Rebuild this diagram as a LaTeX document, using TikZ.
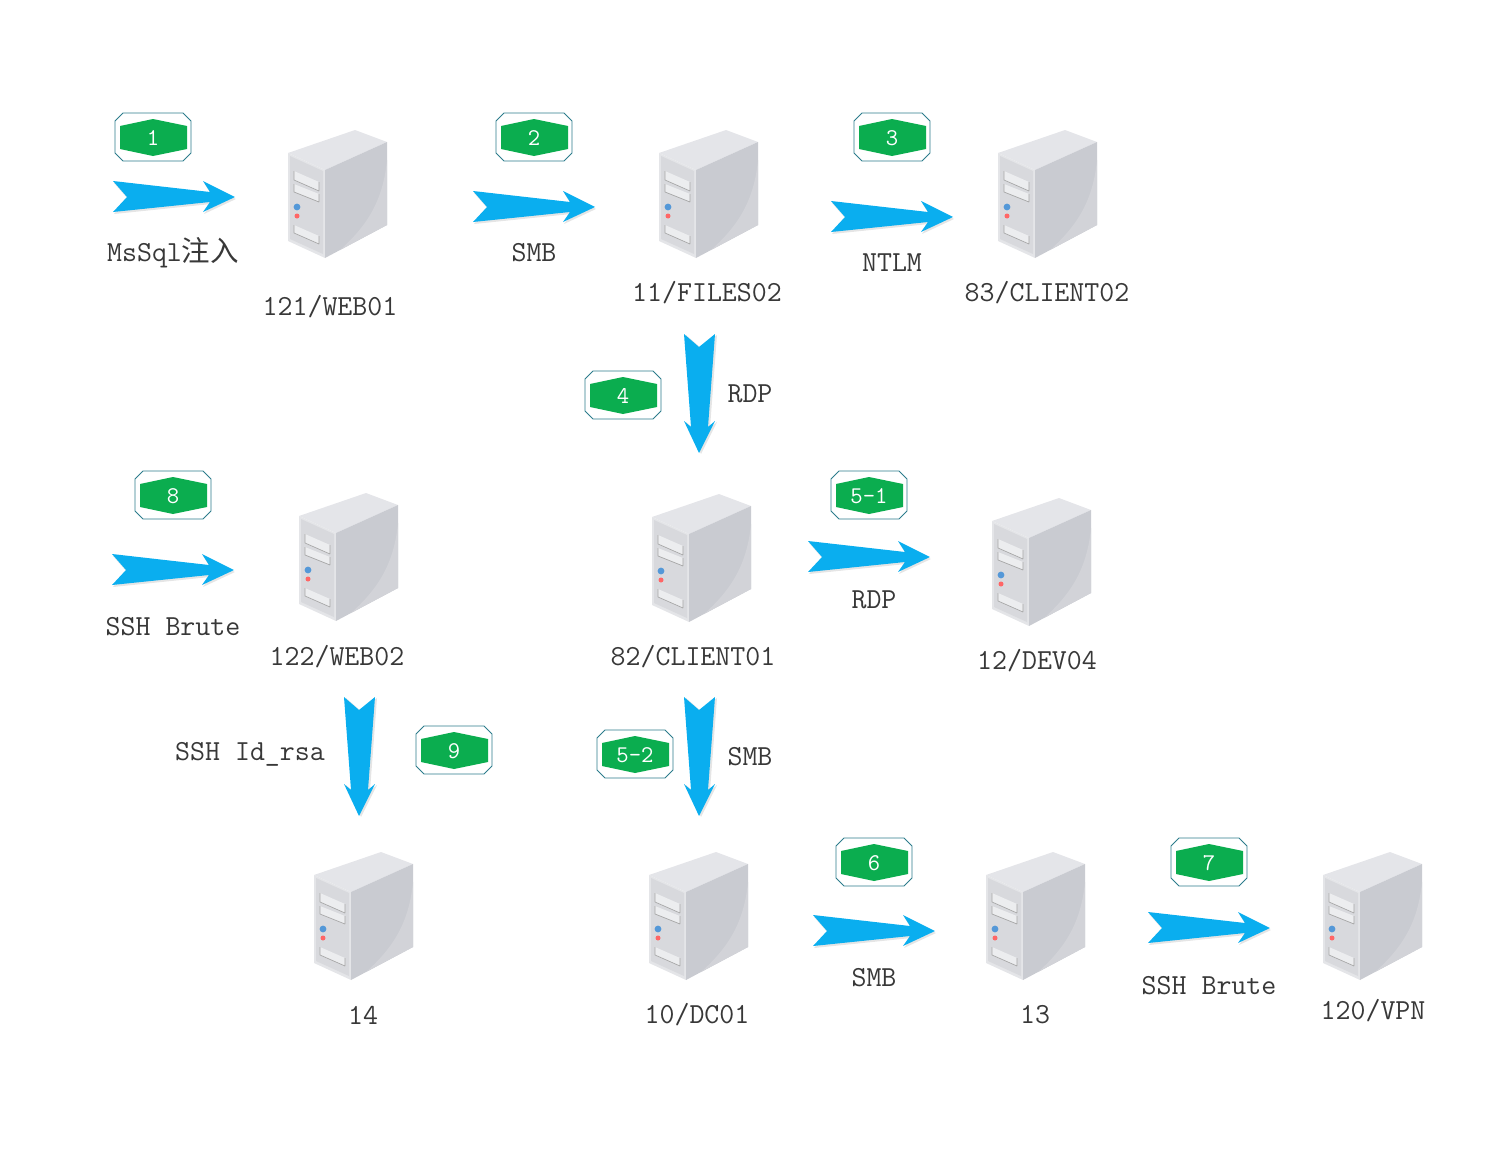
\documentclass[tikz,border=0pt]{standalone}
\usepackage{fontspec}
\newfontfamily\cjk[Scale=0.98]{Noto Sans CJK SC}
\definecolor{arrowblue}{HTML}{0AAEEF}
\definecolor{badgegreen}{HTML}{0BAD4F}
\definecolor{badgeline}{HTML}{2C7C8C}
\definecolor{srvtop}{HTML}{E4E5E9}
\definecolor{srvrim}{HTML}{E4E5E8}
\definecolor{srvfront}{HTML}{D8D9DD}
\definecolor{srvside}{HTML}{C9CBD1}
\definecolor{srvsweep}{HTML}{D2D3D8}
\definecolor{srvbay}{HTML}{ECEDEF}
\tikzset{
  lbl/.style={font=\fontsize{21.8}{22}\selectfont\ttfamily, text=black!78, inner sep=0pt},
  % server, origin is the top left corner of its box
  server/.pic={
    \fill[srvtop] (0,23) -- (67,0) -- (99,12) -- (37,40) -- cycle;
    \fill[srvrim] (0,23) -- (37,40) -- (37,128) -- (0,111) -- cycle;
    \fill[srvfront] (2,26) -- (35,41) -- (35,124) -- (2,109) -- cycle;
    \fill[srvside] (37,40) -- (99,12) -- (99,95) -- (37,128) -- cycle;
    \fill[srvsweep] (99,30) .. controls (95,70) and (80,95) .. (52,120) -- (99,95) -- cycle;
    \fill[srvbay] (6,41) -- (31,52) -- (31,61) -- (6,50) -- cycle;
    \fill[srvbay] (6,54) -- (31,64) -- (31,72) -- (6,62) -- cycle;
    \fill[srvbay] (6,95) -- (31,106) -- (31,114) -- (6,103) -- cycle;
    \draw[black!35, line width=0.5pt] (6,50) -- (31,61) (6,41) -- (6,50) (31,52) -- (31,61);
    \draw[black!35, line width=0.5pt] (6,62) -- (31,72) (6,54) -- (6,62) (31,64) -- (31,72);
    \draw[black!35, line width=0.5pt] (6,103) -- (31,114) (6,95) -- (6,103) (31,106) -- (31,114);
    \fill[cyan!60!blue!70] (9,77) circle (3.4);
    \fill[red!60] (9,86) circle (2.5);
  },
  % number badge, origin is its centre
  badge/.pic={
    \draw[badgeline, fill=white, line width=0.6pt] (-30,-24) -- (30,-24) -- (38,-16) -- (38,16)
      -- (30,24) -- (-30,24) -- (-38,16) -- (-38,-16) -- cycle;
    \fill[badgegreen] (-33,-11) -- (0,-18) -- (34,-11) -- (34,12) -- (0,19) -- (-33,12) -- cycle;
    \node[font=\fontsize{18}{18}\selectfont\ttfamily, text=white, inner sep=0pt] (-num) at (0,1) {#1};
  },
  % arrow pointing right, origin is the upper tail corner
  harrow/.pic={
    \fill[black!10] (1,2) -- (15,18) -- (1,33) -- (98,23) -- (91,33) -- (123,18) -- (91,2) -- (98,13) -- cycle;
    \fill[arrowblue] (0,0) -- (14,16) -- (0,31) -- (97,21) -- (90,31) -- (122,16) -- (90,0) -- (97,11) -- cycle;
  },
  % arrow pointing down, origin is the left tail corner
  varrow/.pic={
    \fill[black!10] (2,1) -- (17,14) -- (33,1) -- (26,94) -- (33,88) -- (17,120) -- (2,88) -- (9,94) -- cycle;
    \fill[arrowblue] (0,0) -- (15,13) -- (31,0) -- (24,93) -- (31,87) -- (15,119) -- (0,87) -- (7,93) -- cycle;
  },
}
\begin{document}
\begin{tikzpicture}[x=0.75pt, y=-0.75pt]
    % reference pixels are the coordinates
    \useasboundingbox (0,0) rectangle (1506,1160);

    % --- Servers ---
    \pic at (288,130) {server};
    \pic at (659,130) {server};
    \pic at (998,130) {server};
    \pic at (299,493) {server};
    \pic at (652,494) {server};
    \pic at (992,498) {server};
    \pic at (314,852) {server};
    \pic at (649,852) {server};
    \pic at (986,852) {server};
    \pic at (1323,852) {server};

    % --- Arrows ---
    \pic at (113,181) {harrow};
    \pic at (473,191) {harrow};
    \pic at (831,201) {harrow};
    \pic at (112,554) {harrow};
    \pic at (808,541) {harrow};
    \pic at (813,915) {harrow};
    \pic at (1148,912) {harrow};
    \pic at (684,334) {varrow};
    \pic at (344,697) {varrow};
    \pic at (684,697) {varrow};

    % --- Badges ---
    \pic (stepA) at (153,137) {badge=1};
    \pic (stepB) at (534,137) {badge=2};
    \pic (stepC) at (892,137) {badge=3};
    \pic (stepD) at (623,395) {badge=4};
    \pic (stepH) at (173,495) {badge=8};
    \pic (stepEa) at (869,495) {badge=5-1};
    \pic (stepI) at (454,750) {badge=9};
    \pic (stepEb) at (635,754) {badge=5-2};
    \pic (stepF) at (874,862) {badge=6};
    \pic (stepG) at (1209,862) {badge=7};

    % --- Server names ---
    \node[lbl] (web01) at (330,307) {121/WEB01};
    \node[lbl] (files02) at (707,293) {11/FILES02};
    \node[lbl] (client02) at (1047,293) {83/CLIENT02};
    \node[lbl] (web02) at (337,657) {122/WEB02};
    \node[lbl] (client01) at (693,657) {82/CLIENT01};
    \node[lbl] (dev04) at (1037,661) {12/DEV04};
    \node[lbl] (h14) at (363,1015) {14};
    \node[lbl] (dc01) at (697,1015) {10/DC01};
    \node[lbl] (h13) at (1035,1015) {13};
    \node[lbl] (vpn) at (1373,1011) {120/VPN};

    % --- Protocol labels ---
    \node[lbl] (mssql) at (173,253) {MsSql{\cjk 注入}};
    \node[lbl] (smbA) at (534,253) {SMB};
    \node[lbl] (ntlm) at (892,263) {NTLM};
    \node[lbl] (rdpA) at (750,394) {RDP};
    \node[lbl] (brA) at (173,627) {SSH Brute};
    \node[lbl] (rdpB) at (874,600) {RDP};
    \node[lbl] (idrsa) at (250,754) {SSH Id\_rsa};
    \node[lbl] (smbB) at (750,757) {SMB};
    \node[lbl] (smbC) at (874,978) {SMB};
    \node[lbl] (brB) at (1209,986) {SSH Brute};
\end{tikzpicture}
\end{document}
